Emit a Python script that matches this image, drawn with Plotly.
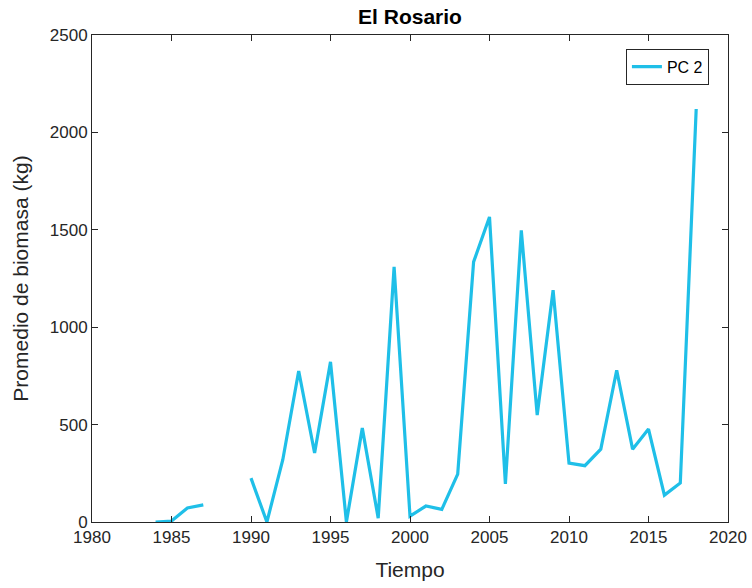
import plotly.graph_objects as go

years = list(range(1984, 2019))
biomasa = [0, 5, 72, 88, None, None, 225, 0, 320, 775, 354, 822, 0, 482, 20, 1310,
           30, 82, 65, 246, 1335, 1566, 195, 1497, 549, 1190, 302, 289, 374, 779,
           374, 477, 138, 200, 2120]
series_name = "PC 2"
x_ticks = [1980, 1985, 1990, 1995, 2000, 2005, 2010, 2015, 2020]
y_ticks = [0, 500, 1000, 1500, 2000, 2500]

axis_color = "#262626"
font_family = "Liberation Sans, Arial, sans-serif"

fig = go.Figure()
fig.add_trace(go.Scatter(
    x=years, y=biomasa, mode="lines", name=series_name,
    line=dict(color="#1FBFE8", width=3.2), connectgaps=False,
))

axis_common = dict(
    showgrid=False, zeroline=False, showline=True, linecolor=axis_color,
    linewidth=1, mirror="ticks", ticks="inside", ticklen=6, tickcolor=axis_color,
    tickfont=dict(size=17, color=axis_color, family=font_family),
)

fig.update_layout(
    width=752, height=588,
    margin=dict(l=92, r=24, t=35, b=66, autoexpand=False),
    paper_bgcolor="white", plot_bgcolor="white",
    font=dict(family=font_family, color=axis_color),
    title=dict(text="<b>El Rosario</b>", x=0.5, xref="paper", xanchor="center",
               y=1 - 17 / 588, yanchor="middle",
               font=dict(size=21, color="black", family=font_family)),
    xaxis=dict(range=[1980, 2020], tickvals=x_ticks,
               title=dict(text="Tiempo", font=dict(size=21, color=axis_color), standoff=15),
               **axis_common),
    yaxis=dict(range=[0, 2500], tickvals=y_ticks,
               title=dict(text="Promedio de biomasa (kg)", font=dict(size=21, color=axis_color), standoff=15),
               **axis_common),
    legend=dict(x=0.970, y=0.972, xanchor="right", yanchor="top",
                bgcolor="white", bordercolor=axis_color, borderwidth=1,
                font=dict(size=16, color="black", family=font_family)),
    showlegend=True,
)

fig.write_html("out.html", post_script="document.body.style.margin='0';",
               config={"displayModeBar": False})
